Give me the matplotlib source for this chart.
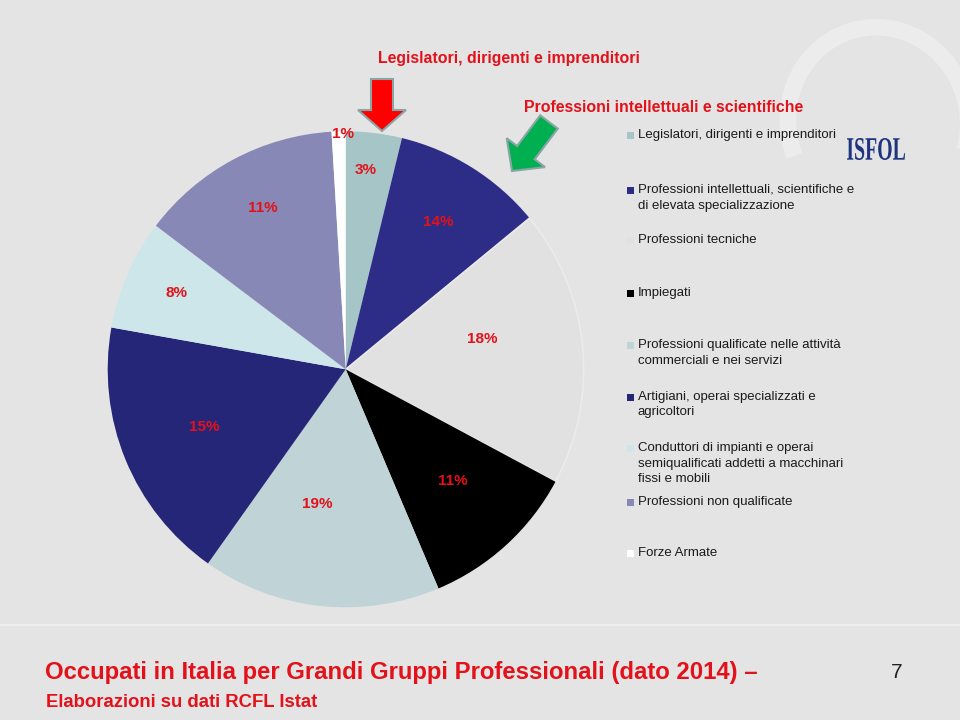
import numpy as np
import matplotlib
matplotlib.use("Agg")
import matplotlib.pyplot as plt
from matplotlib.patches import FancyArrow, Rectangle, Arc, PathPatch
from matplotlib.textpath import TextPath
from matplotlib.font_manager import FontProperties
from matplotlib.transforms import Affine2D

plt.rcParams['font.family'] = ['Liberation Sans', 'DejaVu Sans']

# groups, in pie order (clockwise from 12 o'clock)
categories = [
    "Legislatori, dirigenti e imprenditori",
    "Professioni intellettuali, scientifiche e\ndi elevata specializzazione",
    "Professioni tecniche",
    "Impiegati",
    "Professioni qualificate nelle attività\ncommerciali e nei servizi",
    "Artigiani, operai specializzati e\nagricoltori",
    "Conduttori di impianti e operai\nsemiqualificati addetti a macchinari\nfissi e mobili",
    "Professioni non qualificate",
    "Forze Armate",
]
# slice sizes as drawn
shares = [3.8, 10.25, 18.8, 10.8, 16.2, 18.0, 7.5, 13.75, 0.95]
# percentages written on the slices
pct_labels = ["3%", "14%", "18%", "11%", "19%", "15%", "8%", "11%", "1%"]

colors = ["#a5c5c7", "#2d2d87", "#e1e1e1", "#000000", "#c0d3d7",
          "#262679", "#cde6ea", "#8888b6", "#ffffff"]

# label placement inside the slices (fraction of radius, angle tweak in deg)
label_r = [0.84, 0.73, 0.59, 0.65, 0.58, 0.64, 0.78, 0.76, 0.99]
label_dth = [1, 0, 7, 1.5, -5.5, 0, -0.5, -1, -1]

# legend rows (first line centre, pixels from top)
legend_y = [135, 190, 240, 293, 345, 397, 448, 502, 553]

red = "#e2111a"
bg = "#e4e4e4"

fig = plt.figure(figsize=(9.6, 7.2), dpi=100, facecolor=bg)

# pie: centre (346, 369) px, radius 238 px
cx, cy, r = 345.7, 369.3, 238
ax = fig.add_axes([(cx - r) / 960, (720 - cy - r) / 720, 2 * r / 960, 2 * r / 720])
ax.set_zorder(1)
wedges, _ = ax.pie(shares, colors=colors, startangle=90, counterclock=False,
                   radius=1, wedgeprops=dict(linewidth=0))
wedges[2].set_edgecolor("#ebebeb")
wedges[2].set_linewidth(1.2)
ax.set_xlim(-1, 1)
ax.set_ylim(-1, 1)
ax.axis("off")

for w, lab, rr, dth in zip(wedges, pct_labels, label_r, label_dth):
    th = np.radians((w.theta1 + w.theta2) / 2 + dth)
    ax.text(rr * np.cos(th), rr * np.sin(th), lab, ha="center", va="center",
            color=red, fontsize=11, fontweight="bold")

# overlay in pixel coordinates
ov = fig.add_axes([0, 0, 1, 1])
ov.set_zorder(2)
ov.patch.set_alpha(0)
ov.set_xlim(0, 960)
ov.set_ylim(720, 0)
ov.axis("off")

# faint swirl behind the logo
ov.add_patch(Arc((878, 122), 180, 190, angle=-12, theta1=170, theta2=30,
                 color="white", lw=12, alpha=0.3))

# separator above the footer
ov.plot([0, 960], [625, 625], color="#eeeeee", lw=1.5)

# callouts
ov.text(378, 58, "Legislatori, dirigenti e imprenditori", color=red,
        fontsize=11.4, fontweight="bold", ha="left", va="center")
ov.text(524, 107, "Professioni intellettuali e scientifiche", color=red,
        fontsize=11.4, fontweight="bold", ha="left", va="center")

ov.add_patch(FancyArrow(382, 79, 0, 52, width=22, head_width=48, head_length=21,
                        length_includes_head=True, fc="#ff0000", ec="#8aa5a5", lw=1.5))
ov.add_patch(FancyArrow(549, 122, -37, 49, width=22, head_width=48, head_length=23,
                        length_includes_head=True, fc="#00b050", ec="#8aa5a5", lw=1.5))

# legend
for lab, col, y in zip(categories, colors, legend_y):
    ov.add_patch(Rectangle((627, y - 3.5), 7, 7, fc=col, ec="none"))
    for j, line in enumerate(lab.split("\n")):
        ov.text(637.5, y + j * 15.5, line, color="#1a1a1a", fontsize=9.5,
                ha="left", va="center")

# logo, squeezed to the tall narrow lettering of the original
tp = TextPath((0, 0), "ISFOL", size=1,
              prop=FontProperties(family="Liberation Serif", weight="bold"))
ext = tp.get_extents()
sx = 58 / ext.width
sy = 22 / ext.height
logo = Affine2D().translate(-ext.x0, -ext.y0).scale(sx, -sy).translate(847, 160)
ov.add_patch(PathPatch(logo.transform_path(tp), fc="#1f3480", ec="none"))

# footer
ov.text(45, 679, "Occupati in Italia per Grandi Gruppi Professionali (dato 2014) \u2013",
        color=red, fontsize=17.2, fontweight="bold", ha="left", va="baseline")
ov.text(46, 707, "Elaborazioni su dati RCFL Istat", color=red, fontsize=13.3,
        fontweight="bold", ha="left", va="baseline")
ov.text(897, 678, "7", color="#222222", fontsize=15, ha="center", va="baseline")

fig.savefig("out.png", dpi=100, facecolor=bg)
